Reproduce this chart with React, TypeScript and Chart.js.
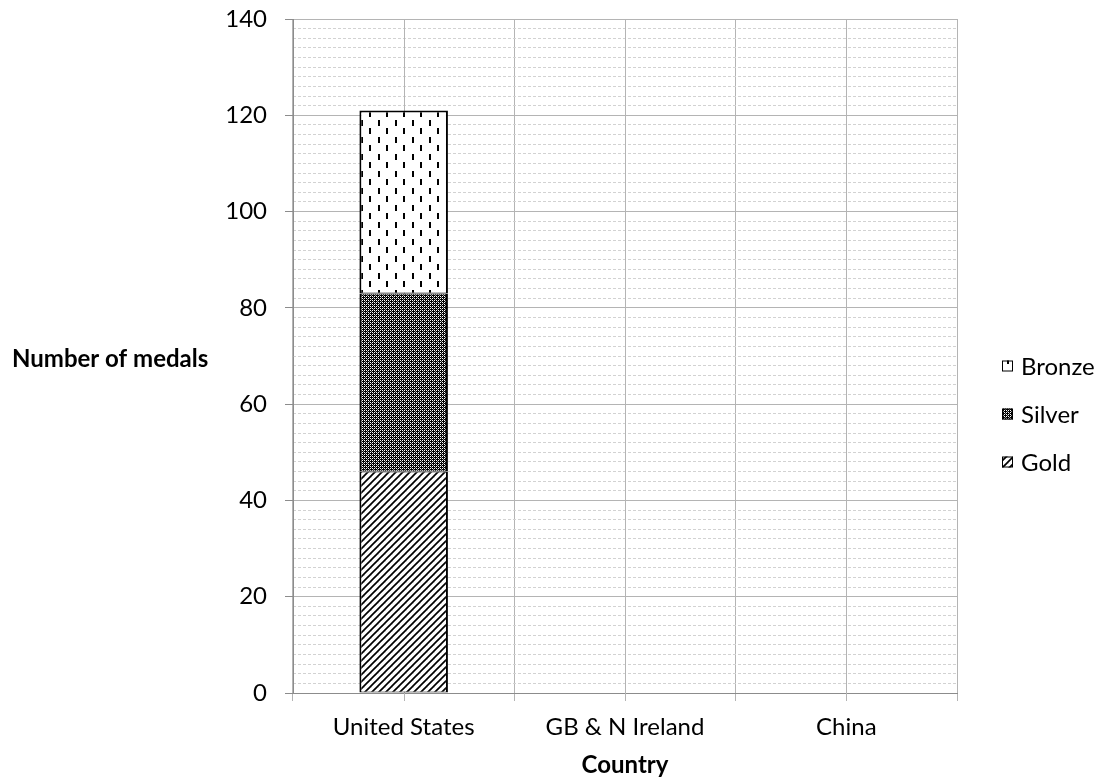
import React, { useEffect, useRef } from "react";
import { Chart, registerables } from "chart.js";

Chart.register(...registerables);

// Medal table
const countries = ["United States", "GB & N Ireland", "China"];
const goldMedals: (number | null)[] = [46, null, null];
const silverMedals: (number | null)[] = [37, null, null];
const bronzeMedals: (number | null)[] = [38, null, null];
const seriesNames = ["Gold", "Silver", "Bronze"];

// Axis settings
const yMin = 0;
const yMax = 140;
const yMajorStep = 20;
const yMinorStep = 2;
const xAxisTitle = "Country";
const yAxisTitle = "Number of medals";

const FONT = "Lato, 'Open Sans', sans-serif";
const GRID = "#b4b4b4";
const MINOR_GRID = "#d2d2d2";
const AXIS = "#8c8c8c";

function makeTile(w: number, h: number, draw: (g: CanvasRenderingContext2D) => void) {
  const c = document.createElement("canvas");
  c.width = w;
  c.height = h;
  const g = c.getContext("2d")!;
  draw(g);
  return c;
}

// Diagonal hatch
function goldPattern(ctx: CanvasRenderingContext2D) {
  const t = makeTile(7, 7, (g) => {
    g.fillStyle = "#fff";
    g.fillRect(0, 0, 7, 7);
    g.strokeStyle = "#000";
    g.lineWidth = 1.7;
    for (const o of [-7, 0, 7]) {
      g.beginPath();
      g.moveTo(o - 1, 8);
      g.lineTo(o + 8, -1);
      g.stroke();
    }
  });
  return ctx.createPattern(t, "repeat")!;
}

// Fine dark check
function silverPattern(ctx: CanvasRenderingContext2D) {
  const t = makeTile(4, 4, (g) => {
    g.fillStyle = "#000";
    g.fillRect(0, 0, 4, 4);
    g.fillStyle = "#fff";
    for (const [x, y] of [[0, 0], [2, 0], [0, 2], [2, 2]]) g.fillRect(x, y, 1, 1);
    g.fillStyle = "#8a8a8a";
    for (const [x, y] of [[1, 1], [3, 3]]) g.fillRect(x, y, 1, 1);
  });
  return ctx.createPattern(t, "repeat")!;
}

// Staggered vertical dashes
function bronzePattern(ctx: CanvasRenderingContext2D) {
  const t = makeTile(17, 17, (g) => {
    g.fillStyle = "#fff";
    g.fillRect(0, 0, 17, 17);
    g.fillStyle = "#000";
    g.fillRect(4, 1, 2, 6);
    g.fillRect(12, 9, 2, 6);
  });
  return ctx.createPattern(t, "repeat")!;
}

const decorPlugin = {
  id: "excelDecor",
  beforeDatasetsDraw(chart: any) {
    const { ctx, chartArea } = chart;
    const xs = chart.scales.x;
    ctx.save();
    ctx.strokeStyle = GRID;
    ctx.lineWidth = 1;
    for (let i = 0; i < countries.length; i++) {
      const x = Math.round(xs.getPixelForValue(i)) + 0.5;
      ctx.beginPath();
      ctx.moveTo(x, chartArea.top);
      ctx.lineTo(x, chartArea.bottom + 8);
      ctx.stroke();
    }
    ctx.restore();
  },
  afterDraw(chart: any) {
    const { ctx, chartArea } = chart;
    ctx.save();
    // horizontal value-axis title
    ctx.fillStyle = "#000";
    ctx.font = `bold 24px ${FONT}`;
    ctx.textAlign = "left";
    ctx.textBaseline = "alphabetic";
    ctx.fillText(yAxisTitle, 12, (chartArea.top + chartArea.bottom) / 2 + 11);

    // legend, last series on top
    const ds = chart.data.datasets;
    ctx.font = `24px ${FONT}`;
    for (let k = 0; k < ds.length; k++) {
      const d = ds[ds.length - 1 - k];
      const cy = 366 + k * 48;
      ctx.fillStyle = d.backgroundColor;
      ctx.fillRect(1002, cy - 5.5, 11, 11);
      ctx.strokeStyle = "#000";
      ctx.lineWidth = 1;
      ctx.strokeRect(1002.5, cy - 5, 10, 10);
      ctx.fillStyle = "#000";
      ctx.fillText(d.label, 1021, cy + 8.5);
    }
    ctx.restore();
  },
};

export default function App() {
  const ref = useRef<HTMLCanvasElement>(null);

  useEffect(() => {
    const canvas = ref.current!;
    const c2d = canvas.getContext("2d")!;
    const fills = [goldPattern(c2d), silverPattern(c2d), bronzePattern(c2d)];
    const values = [goldMedals, silverMedals, bronzeMedals];

    Chart.defaults.font.family = FONT;
    Chart.defaults.color = "#000";

    const chart = new Chart(canvas, {
      type: "bar",
      data: {
        labels: countries,
        datasets: seriesNames.map((name, i) => ({
          label: name,
          data: values[i],
          backgroundColor: fills[i],
          borderColor: "#000",
          borderWidth: { top: i === 2 ? 2 : 1, bottom: 1, left: 2, right: 2 },
          borderSkipped: false,
          barPercentage: 0.4,
          categoryPercentage: 1,
        })),
      },
      options: {
        responsive: false,
        animation: false,
        devicePixelRatio: 1,
        layout: { padding: { top: 19, right: 143, left: 0, bottom: 0 } },
        plugins: {
          legend: { display: false },
          tooltip: { enabled: false },
        },
        scales: {
          x: {
            stacked: true,
            offset: true,
            grid: { offset: true, color: GRID, tickLength: 8, tickColor: GRID },
            border: { color: AXIS },
            ticks: { font: { size: 24 }, color: "#000", padding: 12, maxRotation: 0, autoSkip: false },
            title: {
              display: true,
              text: xAxisTitle,
              font: { size: 24, weight: "bold" },
              color: "#000",
              padding: { top: 0, bottom: 0 },
            },
            afterFit: (s: any) => {
              s.height = 87;
              s.paddingLeft = 0;
              s.paddingRight = 0;
            },
          },
          y: {
            stacked: true,
            min: yMin,
            max: yMax,
            ticks: { stepSize: yMajorStep, font: { size: 24 }, color: "#000", padding: 18 },
            grid: { color: GRID, tickLength: 8, tickColor: AXIS },
            border: { color: AXIS },
            afterFit: (s: any) => {
              s.width = 293;
              s.paddingTop = 0;
              s.paddingBottom = 0;
            },
          },
          yMinor: {
            position: "right",
            min: yMin,
            max: yMax,
            ticks: { display: false, stepSize: yMinorStep },
            grid: {
              drawTicks: false,
              color: (c: any) => (c.tick && c.tick.value % yMajorStep === 0 ? "rgba(0,0,0,0)" : MINOR_GRID),
            },
            border: { display: false, dash: [3, 2] },
            afterFit: (s: any) => {
              s.width = 0;
              s.paddingTop = 0;
              s.paddingBottom = 0;
            },
          },
        },
      } as any,
      plugins: [decorPlugin],
    });

    return () => chart.destroy();
  }, []);

  return (
    <div style={{ position: "fixed", left: 0, top: 0, width: 1100, height: 780, background: "#fff" }}>
      <canvas ref={ref} width={1100} height={780} style={{ display: "block" }} />
    </div>
  );
}
